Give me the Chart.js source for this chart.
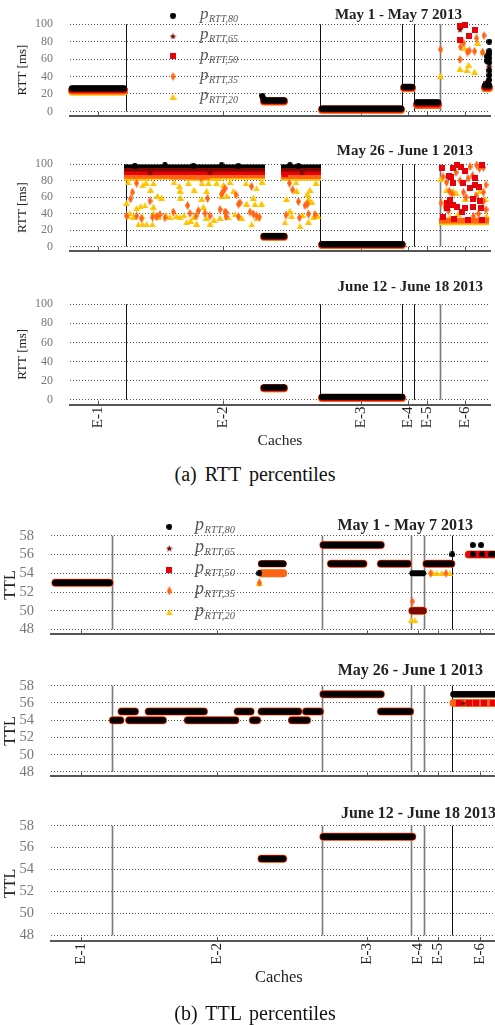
<!DOCTYPE html>
<html lang="en">
<head>
<meta charset="UTF-8">
<title>RTT and TTL percentiles per cache</title>
<script src="https://cdn.jsdelivr.net/npm/chart.js"></script>
<style>
  html, body { margin: 0; padding: 0; background: #fff; }
  body { width: 495px; height: 1025px; overflow: hidden; position: relative; font-family: "Liberation Serif", serif; }
  canvas { position: absolute; left: 0; }
  .caption { position: absolute; left: 0; width: 510px; text-align: center; font-size: 20px; line-height: 20px; color: #111; word-spacing: 3px; }
</style>
</head>
<body>
<canvas id="rtt1" width="495" height="140" style="top:0px"></canvas>
<canvas id="rtt2" width="495" height="135" style="top:140px"></canvas>
<canvas id="rtt3" width="495" height="170" style="top:280px"></canvas>
<div class="caption" style="top:464px">(a) RTT percentiles</div>
<canvas id="ttl1" width="512" height="150" style="top:510px"></canvas>
<canvas id="ttl2" width="512" height="142" style="top:660px"></canvas>
<canvas id="ttl3" width="512" height="190" style="top:800px"></canvas>
<div class="caption" style="top:1003px">(b) TTL percentiles</div>

<script>
// ---- data ----
var cacheNames = ['E-1', 'E-2', 'E-3', 'E-4', 'E-5', 'E-6'];
var cacheTicks = [14, 76.5, 145.5, 169, 178.5, 197.5];
var cacheBounds = [28, 125, 166, 172, 185];
var cacheMax = 210;
var rttTicks = [0, 20, 40, 60, 80, 100];
var ttlTicks = [48, 50, 52, 54, 56, 58];
var pctNames = ['80', '65', '50', '35', '20'];
var weekNames = ['May 1 - May 7 2013', 'May 26 - June 1 2013', 'June 12 - June 18 2013'];

// bands: [fromCache, toCache, y] (all percentiles equal)
//     or [fromCache, toCache, p80, p65, p50, p35, p20]
// points: [percentile index (0 = p80 ... 4 = p20), cache, y]
// fills (dense areas): [percentile index, fromCache, toCache, low, high]

var rttBands1 = [
  [1, 27, 26.5, 26, 25, 24, 22],
  [97, 107, 12.6, 12.5, 12, 11.5, 11],
  [126, 165.5, 3, 3, 2.5, 2, 1.5],
  [167, 171, 28, 28, 27.5, 27, 26],
  [173.5, 184, 10.5, 10, 8.5, 7.5, 7],
  [207.5, 209.5, 30, 29, 28, 27, 26]
];
var rttPoints1 = [
  [0, 96.2, 18], [0, 96.6, 15.5],
  [0, 209.6, 80], [0, 209.6, 69], [0, 209.3, 65.5], [0, 208.6, 63], [0, 209.6, 61], [0, 208.4, 58],
  [0, 209.6, 56], [0, 209.6, 47], [0, 209.7, 41.5], [0, 209.5, 36], [0, 208.8, 33],
  [1, 195, 94], [1, 209.6, 51.5], [1, 208.5, 27.5],
  [2, 195, 98.5], [2, 197.5, 99.5], [2, 194.8, 82], [2, 199.3, 86], [2, 202.7, 93], [2, 208.2, 32], [2, 209.4, 29],
  [3, 185.3, 71], [3, 195.3, 74], [3, 195, 59.5], [3, 196.8, 78.5], [3, 198.7, 68], [3, 199.6, 69.5],
  [3, 202.3, 69], [3, 203.3, 84], [3, 206.3, 68], [3, 207, 87],
  [4, 185.2, 41], [4, 195, 49], [4, 197.3, 72.5], [4, 198.5, 47.5], [4, 199.3, 53.5], [4, 202.3, 45.5],
  [4, 203.8, 79], [4, 206.5, 68.5]
];

var rttBands2 = [
  [97, 107, 12.8, 12.6, 12.3, 12, 11.5],
  [126, 166, 3, 3, 2.5, 2, 1.5]
];
var rttFills2 = [
  [0, 27, 97.5, 95.5, 101], [0, 105.5, 125.5, 95.5, 101],
  [1, 27, 97.5, 91, 97], [1, 105.5, 125.5, 91, 97],
  [2, 27, 97.5, 87, 94], [2, 105.5, 125.5, 87, 94],
  [3, 27, 50, 82.5, 90], [3, 50, 70, 81.5, 90], [3, 70, 97.5, 83, 90], [3, 105.5, 125.5, 82, 90],
  [4, 27, 40, 80, 87], [4, 40, 58, 81, 87], [4, 58, 76, 79.5, 87], [4, 76, 97.5, 81, 87], [4, 105.5, 125.5, 80, 87],
  [3, 184.5, 209.5, 28, 35], [4, 184.5, 209.5, 26, 30]
];
var rttPoints2 = [
  [0, 32.5, 98], [0, 47.5, 98.5], [0, 61.7, 98], [0, 75.8, 98.5], [0, 84.2, 97.5], [0, 110, 98.5], [0, 114.2, 97.5],
  [1, 40, 90], [1, 70, 90.5], [1, 116, 90],
  [2, 107.5, 88], [2, 110.5, 91],
  [2, 185.8, 95.5], [2, 191.7, 95], [2, 193.5, 99], [2, 195.5, 96], [2, 197.5, 92], [2, 206, 99.5],
  [2, 189.7, 86], [2, 190.5, 84.5], [2, 196.7, 77.5], [2, 191.7, 77], [2, 200, 70.6], [2, 202.5, 74.5],
  [2, 204.5, 72.5], [2, 202.5, 83], [2, 190, 56], [2, 188.3, 53], [2, 191.7, 50], [2, 193.7, 48.5],
  [2, 188.3, 46.8], [2, 197.5, 47], [2, 201.7, 48.5], [2, 201.7, 58], [2, 205, 55], [2, 195.8, 42],
  [2, 205.3, 46.8], [2, 199.2, 32.6], [2, 205.8, 32.6], [2, 186.3, 36.4], [2, 192, 33],
  [3, 33.3, 77], [3, 31.2, 66], [3, 30.3, 58], [3, 28.3, 37.3], [3, 33.3, 37.3], [3, 35.8, 34.2], [3, 40, 55.4],
  [3, 41.3, 35.8], [3, 43.3, 36.4], [3, 45, 39], [3, 47.5, 35], [3, 51.7, 42], [3, 58.8, 50], [3, 60, 40.5],
  [3, 63, 37.3], [3, 64.2, 43.7], [3, 65.5, 83], [3, 67.5, 40.5], [3, 68.8, 58.5], [3, 70, 37.3], [3, 75, 45],
  [3, 75.8, 64], [3, 78, 41.5], [3, 78, 36.4],
  [3, 76.7, 67.4], [3, 77.5, 70.6], [3, 83, 62.7], [3, 85, 53.2], [3, 84.2, 51.6], [3, 90.8, 73], [3, 77.5, 42],
  [3, 84.2, 36.4], [3, 90, 42], [3, 91.7, 39.5], [3, 93.3, 37.3], [3, 94.7, 35.8], [3, 109.7, 77], [3, 111.3, 69],
  [3, 114.2, 54.7], [3, 117.5, 50], [3, 118.7, 51.6], [3, 108, 38.3], [3, 114.7, 35.1], [3, 119.2, 39.5], [3, 122.5, 39],
  [3, 186.5, 85], [3, 188.3, 78], [3, 189.7, 67.4], [3, 191, 64], [3, 195, 80], [3, 196.7, 66], [3, 199, 83],
  [3, 201.3, 86], [3, 203.3, 99], [3, 204.7, 95], [3, 206.7, 96], [3, 206.7, 66], [3, 206.7, 55], [3, 204.2, 40],
  [3, 201.7, 37], [3, 187.5, 48], [3, 189.2, 43.6], [3, 185.5, 53], [3, 193, 90], [3, 198, 60], [3, 203, 62],
  [3, 208, 75], [3, 208, 45], [3, 200, 97],
  [4, 28.3, 53], [4, 30, 40.5], [4, 31.7, 35.8], [4, 29, 37], [4, 34.2, 27], [4, 36.3, 27], [4, 38.3, 27],
  [4, 41.2, 27], [4, 33.3, 46.8], [4, 35.3, 49], [4, 37.5, 50], [4, 41.7, 48.4], [4, 43.7, 61.7], [4, 45.8, 59.5],
  [4, 40.3, 69], [4, 36.3, 74.4], [4, 41.7, 77], [4, 54.7, 73.7], [4, 55, 68], [4, 59.2, 77], [4, 55.3, 59.5],
  [4, 62, 69], [4, 65.8, 58], [4, 68.3, 67.4], [4, 69.2, 77], [4, 73.3, 77], [4, 75.8, 61], [4, 76.7, 75],
  [4, 63.3, 28], [4, 58.3, 29.4], [4, 60.3, 31.6], [4, 70, 27.8], [4, 41.7, 40.5], [4, 44.2, 35.8], [4, 53.3, 37.3],
  [4, 55, 35.8], [4, 66.7, 48.4], [4, 72, 32.6], [4, 75, 35], [4, 79, 35.8], [4, 36, 37], [4, 48, 38], [4, 50, 36],
  [4, 57, 38], [4, 62, 36], [4, 68, 35],
  [4, 81.7, 67.4], [4, 78.3, 61.7], [4, 93.3, 70.6], [4, 91.7, 59.5], [4, 92.5, 51.6], [4, 95.8, 52.2], [4, 88.3, 52.2],
  [4, 90.8, 27], [4, 82.5, 39.5], [4, 85.8, 35.1], [4, 93.3, 34.2], [4, 108.3, 58], [4, 113.3, 68], [4, 118.7, 64.2],
  [4, 120, 69], [4, 119.2, 58], [4, 120.8, 54.7], [4, 110, 43.7], [4, 110.8, 37.3], [4, 107.5, 29.4], [4, 115, 24.7],
  [4, 119.2, 30], [4, 116.3, 38.3], [4, 121.7, 35.8], [4, 124, 37],
  [4, 29, 78], [4, 38, 77.5], [4, 52, 78], [4, 66, 77], [4, 80, 78.5], [4, 88, 77], [4, 96, 79], [4, 113, 78], [4, 123, 77.5],
  [4, 185.3, 81.7], [4, 188.3, 69], [4, 191.7, 67.4], [4, 193, 65.5], [4, 197.5, 58], [4, 204.7, 67.4],
  [4, 208.3, 37.3], [4, 207.5, 58], [4, 194, 40], [4, 190, 36]
];

var rttBands3 = [
  [97, 107, 12.8, 12.6, 12.3, 12, 11.5],
  [126, 166, 3, 3, 2.5, 2, 1.5]
];

var ttlBands1 = [
  [2, 27, 53],
  [97, 107, 55, 55, 55, 54, 54],
  [125.5, 152, 57],
  [129, 144, 55],
  [152, 164.5, 55],
  [166.5, 171.5, 54, 50, 50, 50, 50],
  [173, 184.5, 55],
  [192.5, 209.5, null, null, 56, 56, 56]
];
var ttlPoints1 = [
  [0, 96, 54], [3, 96, 53], [4, 96, 53],
  [3, 166.5, 51], [4, 166, 49], [4, 167.7, 49],
  [3, 175, 54], [3, 182, 54], [4, 176, 54], [4, 177.7, 54], [4, 180, 54], [4, 183.8, 54],
  [0, 184.9, 56],
  [0, 194.3, 57], [0, 198.2, 57], [0, 194.3, 56], [0, 198.8, 56], [0, 202.8, 56], [0, 204.3, 56]
];

var ttlBands2 = [
  [28.5, 32, 54], [32.5, 38.7, 55], [36, 51.6, 54], [45, 70.5, 55], [63, 85, 54], [86, 92, 55],
  [93, 95, 54], [97, 114, 55], [111, 118, 54], [117.5, 124, 55], [125.5, 152, 57], [152, 165.5, 55],
  [185.5, 210, 57, 57, null, 56, 56]
];
var ttlPoints2 = [
  [1, 190, 56], [2, 188, 56], [2, 192.5, 56], [2, 196, 56], [2, 199.7, 56], [2, 203.8, 56], [2, 207.5, 56]
];

var ttlBands3 = [
  [97, 107, 55],
  [125.5, 166.5, 57]
];

// ---- styling ----
var FONT = '"Liberation Serif", serif';
var pctColors = ['#000000', '#7d0a00', '#e8000b', '#ff6414', '#ffc400'];
var bandWidths = [6, 6.5, 7, 8, 7];

function makeMarker(kind, color, w, h) {
  var c = document.createElement('canvas');
  c.width = w;
  c.height = h;
  var g = c.getContext('2d');
  g.fillStyle = color;
  g.beginPath();
  if (kind === 'circle') {
    g.arc(w / 2, h / 2, w / 2, 0, Math.PI * 2);
  } else if (kind === 'square') {
    g.rect(0, 0, w, h);
  } else if (kind === 'diamond') {
    g.moveTo(w / 2, 0); g.lineTo(w, h / 2); g.lineTo(w / 2, h); g.lineTo(0, h / 2);
  } else if (kind === 'triangle') {
    g.moveTo(w / 2, 0); g.lineTo(w, h); g.lineTo(0, h);
  } else {
    for (var i = 0; i < 10; i++) {
      var r = i % 2 ? w * 0.22 : w / 2;
      var a = -Math.PI / 2 + i * Math.PI / 5;
      g.lineTo(w / 2 + r * Math.cos(a), h / 2 + 0.5 + r * Math.sin(a));
    }
  }
  g.closePath();
  g.fill();
  return c;
}

var markerImgs = [
  makeMarker('circle', pctColors[0], 6, 6),
  makeMarker('star', pctColors[1], 7, 7),
  makeMarker('square', pctColors[2], 6, 6),
  makeMarker('diamond', pctColors[3], 5, 9),
  makeMarker('triangle', pctColors[4], 7, 6)
];

var panels = [
  { id: 'rtt1', kind: 'rtt', week: 0, w: 495, padTop: 23, axisH: 6, showX: false,
    bands: rttBands1, points: rttPoints1, fills: [], titleX: 462, titleY: 15,
    legend: { x: 173, y: 15.7, step: 20.25, tx: 200, big: 17, small: 10 } },
  { id: 'rtt2', kind: 'rtt', week: 1, w: 495, padTop: 19, axisH: 5.4, showX: false,
    bands: rttBands2, points: rttPoints2, fills: rttFills2, titleX: 473, titleY: 11 },
  { id: 'rtt3', kind: 'rtt', week: 2, w: 495, padTop: 14, axisH: 45.4, showX: true,
    bands: rttBands3, points: [], fills: [], titleX: 483, titleY: 6.7 },
  { id: 'ttl1', kind: 'ttl', week: 0, w: 512, padTop: 24.3, axisH: 7, showX: false,
    bands: ttlBands1, points: ttlPoints1, fills: [], titleX: 473, titleY: 16,
    legend: { x: 169.3, y: 16.7, step: 21.4, tx: 195, big: 18, small: 10.5 } },
  { id: 'ttl2', kind: 'ttl', week: 1, w: 512, padTop: 19, axisH: 4.7, showX: false,
    bands: ttlBands2, points: ttlPoints2, fills: [], titleX: 483, titleY: 11 },
  { id: 'ttl3', kind: 'ttl', week: 2, w: 512, padTop: 22.7, axisH: 49, showX: true,
    bands: ttlBands3, points: [], fills: [], titleX: 496, titleY: 14 }
];

function decorPlugin(pn) {
  var isRtt = pn.kind === 'rtt';
  var yt = isRtt ? rttTicks : ttlTicks;
  return {
    id: 'decor',
    beforeDatasetsDraw: function (chart) {
      var ctx = chart.ctx, xs = chart.scales.x, ys = chart.scales.y;
      var lo = ys.getPixelForValue(yt[0]);
      var hi = ys.getPixelForValue(yt[yt.length - 1]);
      ctx.save();
      cacheBounds.forEach(function (b, i) {
        var dark = isRtt ? i < 4 : i === 4;
        ctx.strokeStyle = dark ? '#111' : '#7a7a7a';
        ctx.lineWidth = dark ? 1 : 1.6;
        var x = Math.round(xs.getPixelForValue(b)) + 0.5;
        ctx.beginPath();
        ctx.moveTo(x, lo);
        ctx.lineTo(x, hi);
        ctx.stroke();
      });
      // little tick marks sitting on the x axis
      ctx.strokeStyle = '#555';
      ctx.lineWidth = 1;
      var yb = chart.chartArea.bottom;
      cacheTicks.forEach(function (t) {
        var x = Math.round(xs.getPixelForValue(t)) + 0.5;
        ctx.beginPath();
        ctx.moveTo(x, yb);
        ctx.lineTo(x, yb - 4);
        ctx.stroke();
      });
      ctx.restore();
    },
    afterDraw: function (chart) {
      var ctx = chart.ctx;
      ctx.save();
      ctx.fillStyle = '#222';
      ctx.font = 'bold ' + (isRtt ? 15 : 16) + 'px ' + FONT;
      ctx.textAlign = 'right';
      ctx.textBaseline = 'middle';
      ctx.fillText(weekNames[pn.week], pn.titleX, pn.titleY);
      var lg = pn.legend;
      if (lg) {
        ctx.textAlign = 'left';
        ctx.textBaseline = 'alphabetic';
        ctx.fillStyle = '#555';
        pctNames.forEach(function (name, i) {
          var y = lg.y + i * lg.step;
          var img = markerImgs[i];
          ctx.drawImage(img, lg.x - img.width / 2, y - img.height / 2);
          ctx.font = 'italic ' + lg.big + 'px ' + FONT;
          ctx.fillText('p', lg.tx, y + 3.5);
          var w = ctx.measureText('p').width;
          ctx.font = 'italic ' + lg.small + 'px ' + FONT;
          ctx.fillText('RTT,' + name, lg.tx + w + 0.5, y + 6.5);
        });
      }
      ctx.restore();
    }
  };
}

function buildDatasets(pn) {
  var sets = [];
  // draw p20 first so that p80 ends up on top
  for (var p = 4; p >= 0; p--) {
    pn.fills.forEach(function (f) {
      if (f[0] !== p) return;
      sets.push({
        type: 'line',
        data: [{ x: f[1], y: f[4] }, { x: f[2], y: f[4] }],
        fill: { value: f[3] },
        backgroundColor: pctColors[p],
        borderWidth: 0,
        pointRadius: 0
      });
    });
    var seg = [];
    pn.bands.forEach(function (b) {
      var ys = b.length === 3 ? [b[2], b[2], b[2], b[2], b[2]] : b.slice(2);
      if (ys[p] === null) return;
      seg.push({ x: b[0], y: ys[p] }, { x: b[1], y: ys[p] }, { x: b[1], y: null });
    });
    if (seg.length) {
      sets.push({
        type: 'line',
        data: seg,
        borderColor: pctColors[p],
        borderWidth: bandWidths[p],
        borderCapStyle: 'round',
        pointRadius: 0,
        fill: false,
        spanGaps: false
      });
    }
    var pts = pn.points.filter(function (q) { return q[0] === p; })
      .map(function (q) { return { x: q[1], y: q[2] }; });
    if (pts.length) {
      sets.push({ type: 'scatter', data: pts, pointStyle: markerImgs[p], pointRadius: 3 });
    }
  }
  sets.forEach(function (s, i) {
    s.order = sets.length - i;
    s.clip = false;
  });
  return sets;
}

panels.forEach(function (pn) {
  var isRtt = pn.kind === 'rtt';
  var chartRight = isRtt ? 490 : 506.7;
  new Chart(document.getElementById(pn.id), {
    type: 'scatter',
    data: { datasets: buildDatasets(pn) },
    options: {
      responsive: false,
      animation: false,
      devicePixelRatio: 1,
      events: [],
      layout: { padding: { top: pn.padTop, right: pn.w - chartRight, bottom: 0, left: 0 } },
      plugins: { legend: { display: false }, tooltip: { enabled: false } },
      scales: {
        x: {
          type: 'linear',
          min: 0,
          max: cacheMax,
          afterFit: function (s) { s.height = pn.axisH; },
          afterBuildTicks: function (s) { s.ticks = cacheTicks.map(function (v) { return { value: v }; }); },
          grid: { display: false, drawTicks: false },
          border: { display: true, color: '#555', width: 2 },
          ticks: {
            display: pn.showX,
            autoSkip: false,
            minRotation: 90,
            maxRotation: 90,
            padding: 2,
            color: '#222',
            font: { family: FONT, size: 15 },
            callback: function (v, i) { return cacheNames[i]; }
          },
          title: {
            display: pn.showX,
            text: 'Caches',
            color: '#222',
            font: { family: FONT, size: isRtt ? 15.5 : 16.5 },
            padding: { top: 0, bottom: isRtt ? 0 : 2 }
          }
        },
        y: {
          type: 'linear',
          min: isRtt ? -5 : 47.5,
          max: isRtt ? 100 : 58,
          afterFit: function (s) { s.width = isRtt ? 70 : 51; },
          afterBuildTicks: function (s) {
            s.ticks = (isRtt ? rttTicks : ttlTicks).map(function (v) { return { value: v }; });
          },
          grid: { color: '#555', lineWidth: 1, drawTicks: false },
          border: { display: false, dash: [1, 2] },
          ticks: { padding: 17, color: '#777', font: { family: FONT, size: isRtt ? 12 : 14.5 } },
          title: {
            display: true,
            text: isRtt ? 'RTT [ms]' : 'TTL',
            color: '#222',
            font: { family: FONT, size: isRtt ? 13 : 16 },
            padding: { top: isRtt ? 15 : 1, bottom: 0 }
          }
        }
      }
    },
    plugins: [decorPlugin(pn)]
  });
});
</script>
</body>
</html>
